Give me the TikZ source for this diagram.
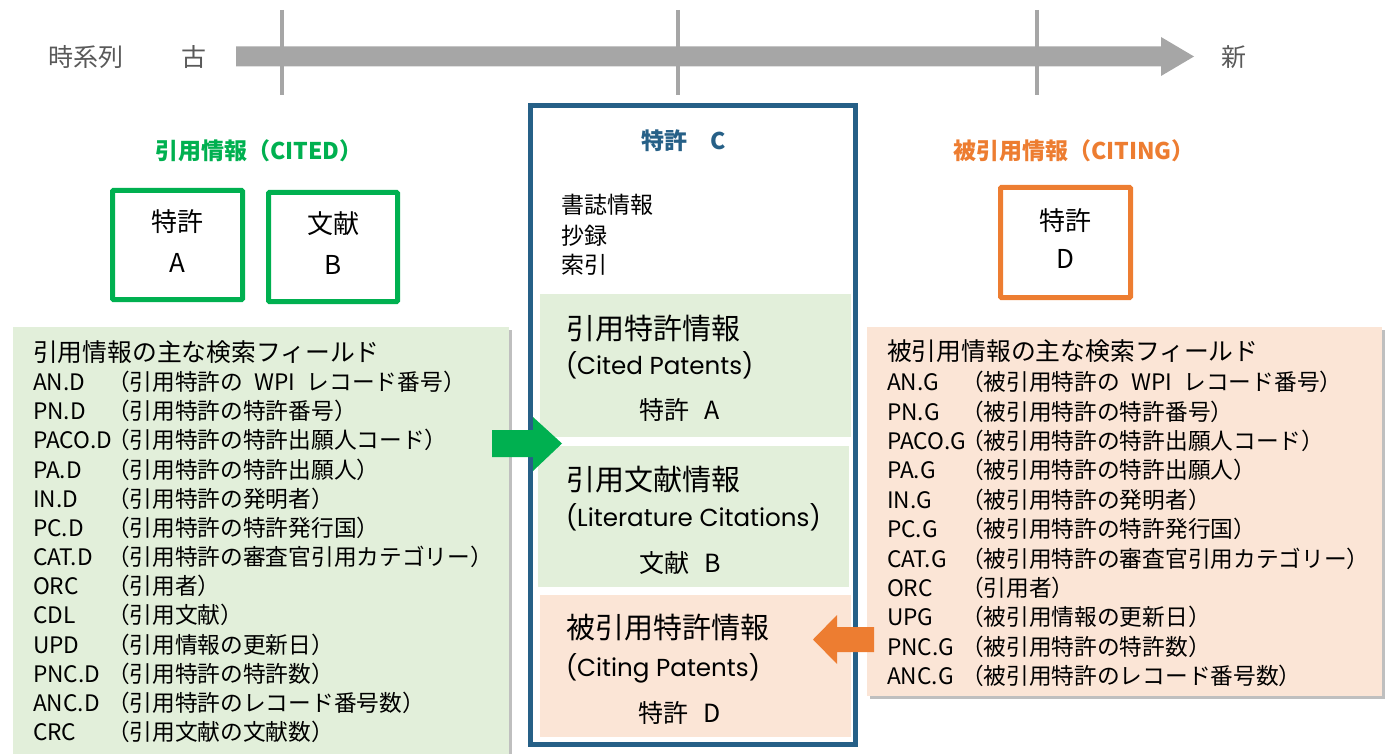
\documentclass[tikz,border=0pt]{standalone}
\usepackage{fontspec}
\setmainfont{Noto Sans CJK JP}
\newfontfamily\geofont{Poppins}
\usetikzlibrary{shadows}
\definecolor{cgreen}{RGB}{0,176,80}
\definecolor{corange}{RGB}{237,125,49}
\definecolor{cblue}{RGB}{38,96,135}
\definecolor{lgreen}{RGB}{226,239,218}
\definecolor{lorange}{RGB}{251,229,214}
\definecolor{bargray}{RGB}{166,166,166}
\definecolor{txtgray}{RGB}{89,89,89}
\newcommand\myfs[1]{\fontsize{#1}{#1}\selectfont}
\begin{document}
\begin{tikzpicture}[x=1pt,y=-1pt,
  every node/.style={inner sep=0pt,outer sep=0pt},
  graytxt/.style={anchor=base west,font=\myfs{25},text=txtgray},
  ttl/.style={anchor=base,font=\myfs{23}\bfseries},
  boxtxt/.style={anchor=base,font=\myfs{26}},
  smallbox/.style={line width=5pt,rounded corners=1pt},
  fieldtitle/.style={anchor=base west,font=\myfs{24.8}},
  fieldtxt/.style={anchor=base west,font=\myfs{22.7}},
  sidepanel/.style={drop shadow={shadow xshift=3pt,shadow yshift=-3pt,opacity=.25,fill=black}},
  head/.style={anchor=base west,font=\myfs{29}},
  eng/.style={anchor=base west,font=\geofont\myfs{24.6}},
  sub/.style={anchor=base,font=\myfs{25}},
  biblio/.style={anchor=base west,font=\myfs{23}}
]
\useasboundingbox (0,0) rectangle (1389,754);

% timeline
\fill[bargray] (236,46.5) -- (1161,46.5) -- (1161,37) -- (1194,56.5) -- (1161,76) -- (1161,66.5) -- (236,66.5) -- cycle;
\foreach \t/\xx in {t1/282,t2/678,t3/1037}{
  \coordinate (\t a) at (\xx,10);
  \coordinate (\t b) at (\xx,95);
  \draw[bargray,line width=4.5pt] (\t a) -- (\t b);
}
\node[graytxt] (jikeiretsu) at (48,66.5) {時系列};
\node[graytxt,anchor=base] (furu) at (194,66.5) {古};
\node[graytxt,anchor=base] (shin) at (1234,66.5) {新};

% titles
\node[ttl,text=cgreen] (cited) at (259,160) {引用情報（CITED）};
\node[ttl,text=corange] (citing) at (1074,160) {被引用情報（CITING）};

% small boxes
\draw[cgreen,smallbox] (112.5,190.5) rectangle (242.5,299.5);
\node[boxtxt] (boxAt) at (177.5,232) {特許};
\node[boxtxt] (boxAl) at (177.5,272.5) {A};
\draw[cgreen,smallbox] (268.5,192.5) rectangle (397.5,301.5);
\node[boxtxt] (boxBt) at (333,233.5) {文献};
\node[boxtxt] (boxBl) at (333,274) {B};
\draw[corange,smallbox] (1000.5,187.5) rectangle (1130.5,297.5);
\node[boxtxt] (boxDt) at (1065.5,230) {特許};
\node[boxtxt] (boxDl) at (1065.5,268.5) {D};

% side panels
\path[fill=lgreen,sidepanel] (13,327) rectangle (509,770);
\path[fill=lorange,sidepanel] (867,327) rectangle (1382,696);

\node[fieldtitle] (ltitle) at (33,361) {引用情報の主な検索フィールド};
\foreach \c/\d [count=\i] in {
  AN.D/（引用特許の\hspace{.5em}WPI\hspace{.5em}レコード番号）,
  PN.D/（引用特許の特許番号）,
  PACO.D/（引用特許の特許出願人コード）,
  PA.D/（引用特許の特許出願人）,
  IN.D/（引用特許の発明者）,
  PC.D/（引用特許の特許発行国）,
  CAT.D/（引用特許の審査官引用カテゴリー）,
  ORC/（引用者）,
  CDL/（引用文献）,
  UPD/（引用情報の更新日）,
  PNC.D/（引用特許の特許数）,
  ANC.D/（引用特許のレコード番号数）,
  CRC/（引用文献の文献数）}{
  \node[fieldtxt] (lc\i) at (33,{390.6+29.17*(\i-1)}) {\c};
  \node[fieldtxt] (ld\i) at (107,{390.6+29.17*(\i-1)}) {\d};
}

\node[fieldtitle] (rtitle) at (887,360) {被引用情報の主な検索フィールド};
\foreach \c/\d [count=\i] in {
  AN.G/（被引用特許の\hspace{.5em}WPI\hspace{.5em}レコード番号）,
  PN.G/（被引用特許の特許番号）,
  PACO.G/（被引用特許の特許出願人コード）,
  PA.G/（被引用特許の特許出願人）,
  IN.G/（被引用特許の発明者）,
  PC.G/（被引用特許の特許発行国）,
  CAT.G/（被引用特許の審査官引用カテゴリー）,
  ORC/（引用者）,
  UPG/（被引用情報の更新日）,
  PNC.G/（被引用特許の特許数）,
  ANC.G/（被引用特許のレコード番号数）}{
  \node[fieldtxt] (rc\i) at (887,{390.6+29.4*(\i-1)}) {\c};
  \node[fieldtxt] (rd\i) at (961,{390.6+29.4*(\i-1)}) {\d};
}

% central patent C
\fill[lgreen] (540,294) rectangle (851,437);
\fill[lgreen] (538,446) rectangle (849,587);
\fill[lorange] (540,595) rectangle (851,737);
\draw[cblue,line width=5pt] (530.5,105.5) rectangle (855.5,744.5);
\node[ttl,text=cblue] (patC) at (684,150) {特許　C};
\node[biblio] (b1) at (561,214) {書誌情報};
\node[biblio] (b2) at (561,244) {抄録};
\node[biblio] (b3) at (561,273) {索引};

\node[head] (h1) at (566,339) {引用特許情報};
\node[eng] (e1) at (566,374) {(Cited Patents)};
\node[sub] (s1) at (680,419.5) {特許\hspace{.6em}A};
\node[head] (h2) at (566,490.6) {引用文献情報};
\node[eng] (e2) at (566,526) {(Literature Citations)};
\node[sub] (s2) at (680,572.5) {文献\hspace{.6em}B};
\node[head] (h3) at (566,638.6) {被引用特許情報};
\node[eng] (e3) at (566,676) {(Citing Patents)};
\node[sub] (s3) at (680,722.5) {特許\hspace{.6em}D};

% block arrows
\fill[cgreen] (492,430) -- (533,430) -- (533,417) -- (562,443.5) -- (533,471) -- (533,457) -- (492,457) -- cycle;
\fill[corange] (874,627) -- (837,627) -- (837,615) -- (813,639.5) -- (837,664) -- (837,652) -- (874,652) -- cycle;
\end{tikzpicture}
\end{document}
